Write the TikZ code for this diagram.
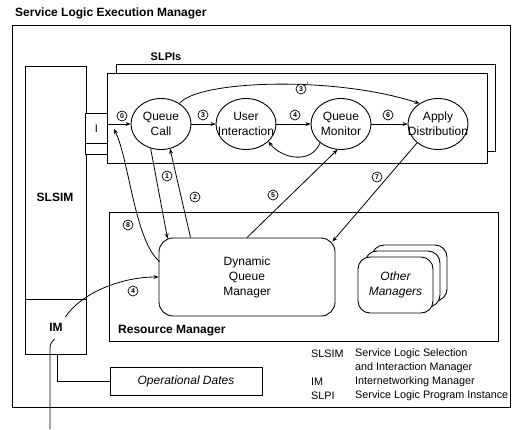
\documentclass[tikz,border=0pt]{standalone}
\usepackage{fontspec}
\setmainfont{Liberation Sans}
\usetikzlibrary{shapes.geometric,arrows.meta,positioning,calc}

\newcommand{\txtsz}{\fontsize{12}{15}\selectfont}
\newcommand{\legsz}{\fontsize{10.8}{13}\selectfont}

\begin{document}
\begin{tikzpicture}[
  x=1pt, y=-1pt,
  frame/.style={draw, line width=0.9pt},
  box/.style={draw, line width=0.9pt, fill=white, inner sep=1pt},
  hd/.style={font=\txtsz\bfseries, inner sep=0pt},
  proc/.style={draw, line width=0.9pt, ellipse, minimum width=60pt, minimum height=51pt, inner sep=0pt},
  ptxt/.style={align=center, font=\txtsz, inner sep=0pt},
  mgrbox/.style={draw, line width=0.9pt, fill=white, rounded corners=14pt, align=center, font=\txtsz},
  arr/.style={-{Stealth[length=5pt,width=4pt]}, line width=0.8pt},
  conn/.style={line width=0.8pt},
  num/.style={circle, draw, line width=0.7pt, fill=white, inner sep=0pt, minimum size=10pt,
              font=\fontsize{7}{7}\selectfont\bfseries},
  leg/.style={font=\legsz, anchor=west, inner sep=0pt}
]
\useasboundingbox (0,0) rectangle (519,429);

% execution manager frame
\node[hd, anchor=west] (title) at (15,13) {Service Logic Execution Manager};
\draw[frame] (12,25) rectangle (510,407);

% SLSIM and IM
\node[box, minimum width=61pt, minimum height=233pt, anchor=north west] (slsim) at (25,66) {};
\node[hd] (slsimlbl) at (55,197) {SLSIM};
\node[box, minimum width=61pt, minimum height=55pt, anchor=north west, font=\txtsz\bfseries] (im) at (25,299) {IM};

% SLPI stack
\draw[frame, fill=white] (116,64) rectangle (495,151);
\draw[frame, fill=white] (107,73) rectangle (487,163);
\node[hd, font=\fontsize{11}{13}\selectfont\bfseries] (slpilbl) at (166,57) {SLPIs};
\node[box, minimum width=22pt, minimum height=30pt, anchor=north west, font=\fontsize{11}{13}\selectfont] (ibox) at (85,113) {I};
\node[box, minimum width=22pt, minimum height=11pt, anchor=north west] (istrip) at (85,143) {};
\coordinate (irx) at (114,129);

\foreach \nm/\x/\txt in {qc/161/{Queue\\Call}, ui/246/{User\\Interaction},
                         qm/341/{Queue\\Monitor}, ad/438/{Apply\\Distribution}} {
  \node[proc] (\nm) at (\x,124) {};
  \node[ptxt] at (\nm) {\txt};
}

% resource manager
\draw[frame] (109,212) rectangle (498,341);
\node[hd, anchor=west] (rmlbl) at (118,331) {Resource Manager};
\node[mgrbox, minimum width=176pt, minimum height=78pt] (dqm) at (247,277) {Dynamic\\Queue\\Manager};
\node[mgrbox, minimum width=75pt, minimum height=56pt, rounded corners=12pt] (om3) at (409.5,273) {};
\node[mgrbox, minimum width=75pt, minimum height=56pt, rounded corners=12pt] (om2) at (402.5,279) {};
\node[mgrbox, minimum width=75pt, minimum height=56pt, rounded corners=12pt, font=\txtsz\itshape] (om1) at (395.5,285) {Other\\Managers};

\node[box, minimum width=152pt, minimum height=28pt, font=\txtsz\itshape] (od) at (186,381) {Operational Dates};
\draw[conn] ($(im.south)+(1.5,0)$) |- (od.west);

% call flow
\draw[arr] (ibox.east |- qc.west) -- (qc.west);
\draw[arr] (qc.east) -- (ui.west);
\draw[arr] (ui.east) -- (qm.west);
\draw[arr] (qm.east) -- (ad.west);
\draw[arr] (qm.222) .. controls +(-9,22) and +(13,17) .. (ui.-38);
\draw[arr] (qc.48) .. controls +(18,-23) and +(-86,-28) .. (ad.132);
\draw[arr] (qc.247) -- ($(dqm.north west)+(9,1)$);
\draw[arr] ($(dqm.north west)+(32,0)$) -- (qc.290);
\draw[arr] (dqm.north) -- (qm.262);
\draw[arr] (ad.222) -- ($(dqm.north east)+(-3,4)$);
\draw[arr] ($(dqm.north west)+(1,24)$) .. controls +(-25,-21) and +(15,30) .. (irx);
\draw[arr] ($(im.center)+(9.5,-10)$) .. controls +(15,-23) and +(-39,0) .. (dqm.west);

\coordinate (ext) at (50,429);
\draw[conn] (ext) -- ++(0,-80) .. controls +(0,-6) and +(-3,4) .. ($(im.center)+(-1.5,12)$);

% step numbers
\node[num] (n0) at (122,116) {0};
\node[num] (n3) at (203,115) {3};
\node[num] (n4) at (295,115) {4};
\node[num] (n6) at (388,115) {6};
\node[num, label={[inner sep=0pt, font=\fontsize{8}{8}\selectfont\bfseries]10:$'$}] (n3b) at (301,89) {3};
\node[num] (n1) at (167,176) {1};
\node[num] (n2) at (195,197) {2};
\node[num] (n5) at (273,195) {5};
\node[num] (n7) at (377,177) {7};
\node[num] (n8) at (128,225) {8};
\node[num] (n4b) at (133,291) {4};

% legend
\node[leg] (lg1a) at (311,354) {SLSIM};
\node[leg] (lg1b) at (355,354) {Service Logic Selection};
\node[leg] (lg2b) at (355,368) {and Interaction Manager};
\node[leg] (lg3a) at (311,382) {IM};
\node[leg] (lg3b) at (355,382) {Internetworking Manager};
\node[leg] (lg4a) at (311,396) {SLPI};
\node[leg] (lg4b) at (355,396) {Service Logic Program Instance};
\end{tikzpicture}
\end{document}
